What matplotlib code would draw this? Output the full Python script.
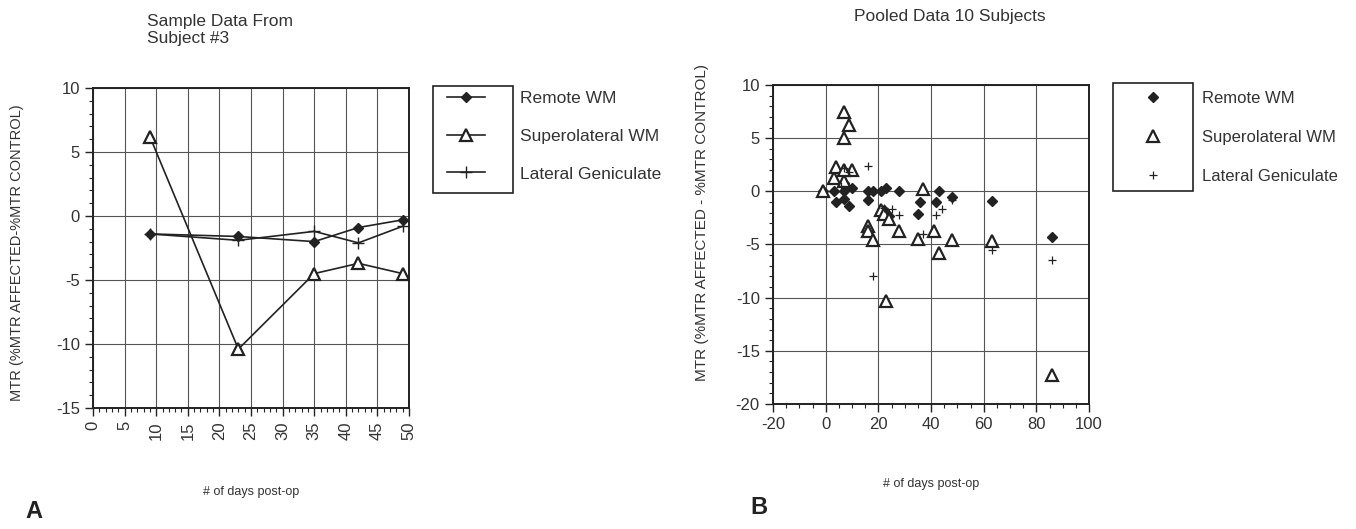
import matplotlib
matplotlib.use("Agg")
from matplotlib import pyplot as plt
from matplotlib.patches import Rectangle
from matplotlib.ticker import MultipleLocator

plt.rcParams['font.family'] = ['Liberation Sans', 'DejaVu Sans']
plt.rcParams['axes.unicode_minus'] = False

# --- panel A: subject #3 ---
days_a = [9, 23, 35, 42, 49]
remote_a = [-1.4, -1.6, -2.0, -0.9, -0.3]
supero_a = [6.2, -10.4, -4.5, -3.7, -4.5]
lgn_a = [-1.4, -1.9, -1.2, -2.1, -0.8]

# --- panel B: pooled, 10 subjects ---
remote_x = [-1, 3, 7, 10, 4, 7, 9, 7, 16, 18, 16, 21, 23, 22, 23, 24, 28, 36, 35, 42, 43, 48, 63, 86]
remote_y = [0, 0, 0, 0.35, -1.0, -0.75, -1.4, 0.8, 0, 0, -0.8, 0, 0.3, -1.8, -2.0, -2.3, 0, -1.0, -2.1, -1.0, 0, -0.5, -0.9, -4.3]
supero_x = [-1, 3, 4, 7, 9, 7, 7, 10, 7, 16, 16, 18, 21, 22, 24, 23, 28, 35, 37, 41, 43, 48, 63, 86]
supero_y = [0, 1.3, 2.3, 7.5, 6.2, 5.0, 1.0, 2.0, 2.0, -3.3, -3.7, -4.6, -1.8, -2.1, -2.6, -10.3, -3.7, -4.5, 0.2, -3.7, -5.8, -4.6, -4.7, -17.3]
lgn_x = [7, 16, 6, 9, 18, 22, 25, 28, 37, 42, 44, 48, 63, 86]
lgn_y = [2.2, 2.4, 0.5, 1.8, -8.0, -1.6, -1.7, -2.2, -4.0, -2.2, -1.7, -0.8, -5.5, -6.5]

labels = ['Remote WM', 'Superolateral WM', 'Lateral Geniculate']
ylab_a = 'MTR (%MTR AFFECTED-%MTR CONTROL)'
ylab_b = 'MTR (%MTR AFFECTED - %MTR CONTROL)'

ink = '#222222'
txt = '#333333'
W, H = 1356, 529

fig = plt.figure(figsize=(13.56, 5.29), dpi=100)
axA = fig.add_axes([93 / W, 1 - 408 / H, 316 / W, 320 / H])
axB = fig.add_axes([773 / W, 1 - 404 / H, 316 / W, 319 / H])

def style(ax):
    ax.grid(True, which='major', color='#555555', lw=0.8)
    ax.set_axisbelow(True)
    for s in ax.spines.values():
        s.set_color(ink)
        s.set_linewidth(1.4)
    ax.tick_params(which='both', direction='out', colors=ink, labelcolor=txt, labelsize=12)
    ax.tick_params(which='major', length=6, width=1)
    ax.tick_params(which='minor', length=3, width=0.8)

# panel A
axA.plot(days_a, remote_a, color=ink, lw=1.2, marker='D', ms=5.5, label=labels[0])
axA.plot(days_a, supero_a, color=ink, lw=1.2, marker='^', ms=8, mfc='white', mew=1.6, label=labels[1])
axA.plot(days_a, lgn_a, color=ink, lw=1.2, marker='+', ms=9, mew=1, label=labels[2])
axA.set_xlim(0, 50)
axA.set_ylim(-15, 10)
axA.xaxis.set_major_locator(MultipleLocator(5))
axA.xaxis.set_minor_locator(MultipleLocator(1))
axA.yaxis.set_major_locator(MultipleLocator(5))
axA.yaxis.set_minor_locator(MultipleLocator(1))
style(axA)
for t in axA.get_xticklabels():
    t.set_rotation(90)
axA.set_ylabel(ylab_a, fontsize=10.5, color=txt)
axA.yaxis.set_label_coords(-0.218, 0.485)
axA.set_xlabel('# of days post-op', fontsize=9, color=txt, labelpad=33)
fig.text(147 / W, 1 - 30 / H, 'Sample Data From\nSubject #3', fontsize=12.5, color=txt, va='center', ha='left', linespacing=1.15)

legA = axA.legend(loc='upper left', bbox_to_anchor=(440 / W, 1 - 84 / H), bbox_transform=fig.transFigure,
                  frameon=False, fontsize=12.5, handlelength=2.2, handletextpad=2.0, labelspacing=1.3,
                  borderaxespad=0)
for t in legA.get_texts():
    t.set_color(txt)
fig.add_artist(Rectangle((433 / W, 1 - 193 / H), 80 / W, 107 / H, transform=fig.transFigure,
                         fill=False, ec=ink, lw=1.2))

# panel B
axB.plot(remote_x, remote_y, ls='none', marker='D', ms=5, color=ink, label=labels[0])
axB.plot(supero_x, supero_y, ls='none', marker='^', ms=8, mfc='white', mec=ink, mew=1.6, label=labels[1])
axB.plot(lgn_x, lgn_y, ls='none', marker='+', ms=6, mew=0.9, color=ink, label=labels[2])
axB.set_xlim(-20, 100)
axB.set_ylim(-20, 10)
axB.xaxis.set_major_locator(MultipleLocator(20))
axB.xaxis.set_minor_locator(MultipleLocator(5))
axB.yaxis.set_major_locator(MultipleLocator(5))
axB.yaxis.set_minor_locator(MultipleLocator(1))
style(axB)
axB.set_ylabel(ylab_b, fontsize=11, color=txt)
axB.yaxis.set_label_coords(-0.203, 0.57)
axB.set_xlabel('# of days post-op', fontsize=9, color=txt, labelpad=33)
fig.text(950 / W, 1 - 16 / H, 'Pooled Data 10 Subjects', fontsize=12.5, color=txt, va='center', ha='center')

legB = axB.legend(loc='upper left', bbox_to_anchor=(1125 / W, 1 - 84 / H), bbox_transform=fig.transFigure,
                  frameon=False, fontsize=12, handlelength=2.6, handletextpad=1.6, labelspacing=1.45,
                  borderaxespad=0, numpoints=1)
for t in legB.get_texts():
    t.set_color(txt)
fig.add_artist(Rectangle((1113 / W, 1 - 191 / H), 80 / W, 108 / H, transform=fig.transFigure,
                         fill=False, ec=ink, lw=1.2))

fig.text(25 / W, 1 - 512 / H, 'A', fontsize=17, fontweight='bold', color=ink, va='center', ha='left')
fig.text(750 / W, 1 - 508 / H, 'B', fontsize=17, fontweight='bold', color=ink, va='center', ha='left')

fig.savefig('out.png', dpi=100, facecolor='white')
